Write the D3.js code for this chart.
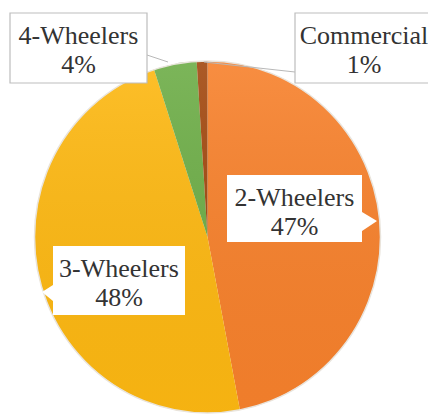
<!DOCTYPE html>
<html>
<head>
<meta charset="utf-8">
<script src="https://cdn.jsdelivr.net/npm/d3@7"></script>
<style>
  html, body { margin: 0; padding: 0; background: #fff; }
  svg { display: block; }
  text { font-family: "Liberation Serif", "Times New Roman", serif; fill: #333; }
</style>
</head>
<body>
<svg id="chart" width="428" height="419"></svg>
<script>
// data
const categories = ["2-Wheelers", "3-Wheelers", "4-Wheelers", "Commercial"];
const shares = [47, 48, 4, 1];
const pctLabels = ["47%", "48%", "4%", "1%"];
const colours = ["#f7812c", "#fdb812", "#6dad47", "#a2480f"];

const width = 428, height = 419;
const cx = 207.5, cy = 237, rx = 173, ry = 176;

const svg = d3.select("#chart");

const pie = d3.pie().sort(null).value(d => d.value);
const arcs = pie(categories.map((c, i) => ({ name: c, value: shares[i], colour: colours[i] })));
const arc = d3.arc().innerRadius(0).outerRadius(rx);

// soft light from the top like the original
const defs = svg.append("defs");
const grad = defs.append("linearGradient")
  .attr("id", "shade").attr("x1", 0).attr("y1", 0).attr("x2", 0).attr("y2", 1);
grad.append("stop").attr("offset", "0%").attr("stop-color", "#fff").attr("stop-opacity", 0.1);
grad.append("stop").attr("offset", "100%").attr("stop-color", "#000").attr("stop-opacity", 0.03);

const pieG = svg.append("g")
  .attr("transform", `translate(${cx},${cy}) scale(1,${ry / rx})`);

pieG.selectAll("path.slice")
  .data(arcs)
  .join("path")
  .attr("class", "slice")
  .attr("d", arc)
  .attr("fill", d => d.data.colour);

pieG.append("circle")
  .attr("r", rx)
  .attr("fill", "url(#shade)")
  .attr("stroke", "#e9e4dc")
  .attr("stroke-width", 1.5);

// label boxes (layout)
const boxes = {
  "2-Wheelers": { x: 227, y: 175, w: 135, h: 67, border: false, pointer: { side: "right", tip: [377, 221], a: 212, b: 231 } },
  "3-Wheelers": { x: 53, y: 246, w: 132, h: 69, border: false, pointer: { side: "left", tip: [42, 292], a: 285, b: 301 } },
  "4-Wheelers": { x: 10, y: 13, w: 137, h: 70, border: true, leader: [[147, 55], [168, 62]] },
  "Commercial": { x: 295, y: 13, w: 138, h: 70, border: true, leader: [[204, 62], [295, 72]] }
};

const labelG = svg.append("g");

arcs.forEach((d, i) => {
  const b = boxes[d.data.name];
  const g = labelG.append("g");
  if (b.leader) {
    g.append("path")
      .attr("d", d3.line()(b.leader))
      .attr("stroke", "#b8b8b8")
      .attr("stroke-width", 1)
      .attr("fill", "none");
  }
  let path;
  if (b.pointer) {
    const p = b.pointer;
    const x0 = b.x, x1 = b.x + b.w, y0 = b.y, y1 = b.y + b.h;
    if (p.side === "right") {
      path = `M${x0},${y0}H${x1}V${p.a}L${p.tip[0]},${p.tip[1]}L${x1},${p.b}V${y1}H${x0}Z`;
    } else {
      path = `M${x0},${y0}H${x1}V${y1}H${x0}V${p.b}L${p.tip[0]},${p.tip[1]}L${x0},${p.a}Z`;
    }
  } else {
    path = `M${b.x},${b.y}h${b.w}v${b.h}h${-b.w}Z`;
  }
  g.append("path")
    .attr("d", path)
    .attr("fill", "#fff")
    .attr("stroke", b.border ? "#bdbdbd" : "none")
    .attr("stroke-width", 1.2);

  const tx = b.x + b.w / 2;
  g.append("text")
    .attr("x", tx).attr("y", b.y + 31)
    .attr("text-anchor", "middle")
    .attr("font-size", 26)
    .text(d.data.name);
  g.append("text")
    .attr("x", tx).attr("y", b.y + 60)
    .attr("text-anchor", "middle")
    .attr("font-size", 26)
    .text(pctLabels[i]);
});
</script>
</body>
</html>
